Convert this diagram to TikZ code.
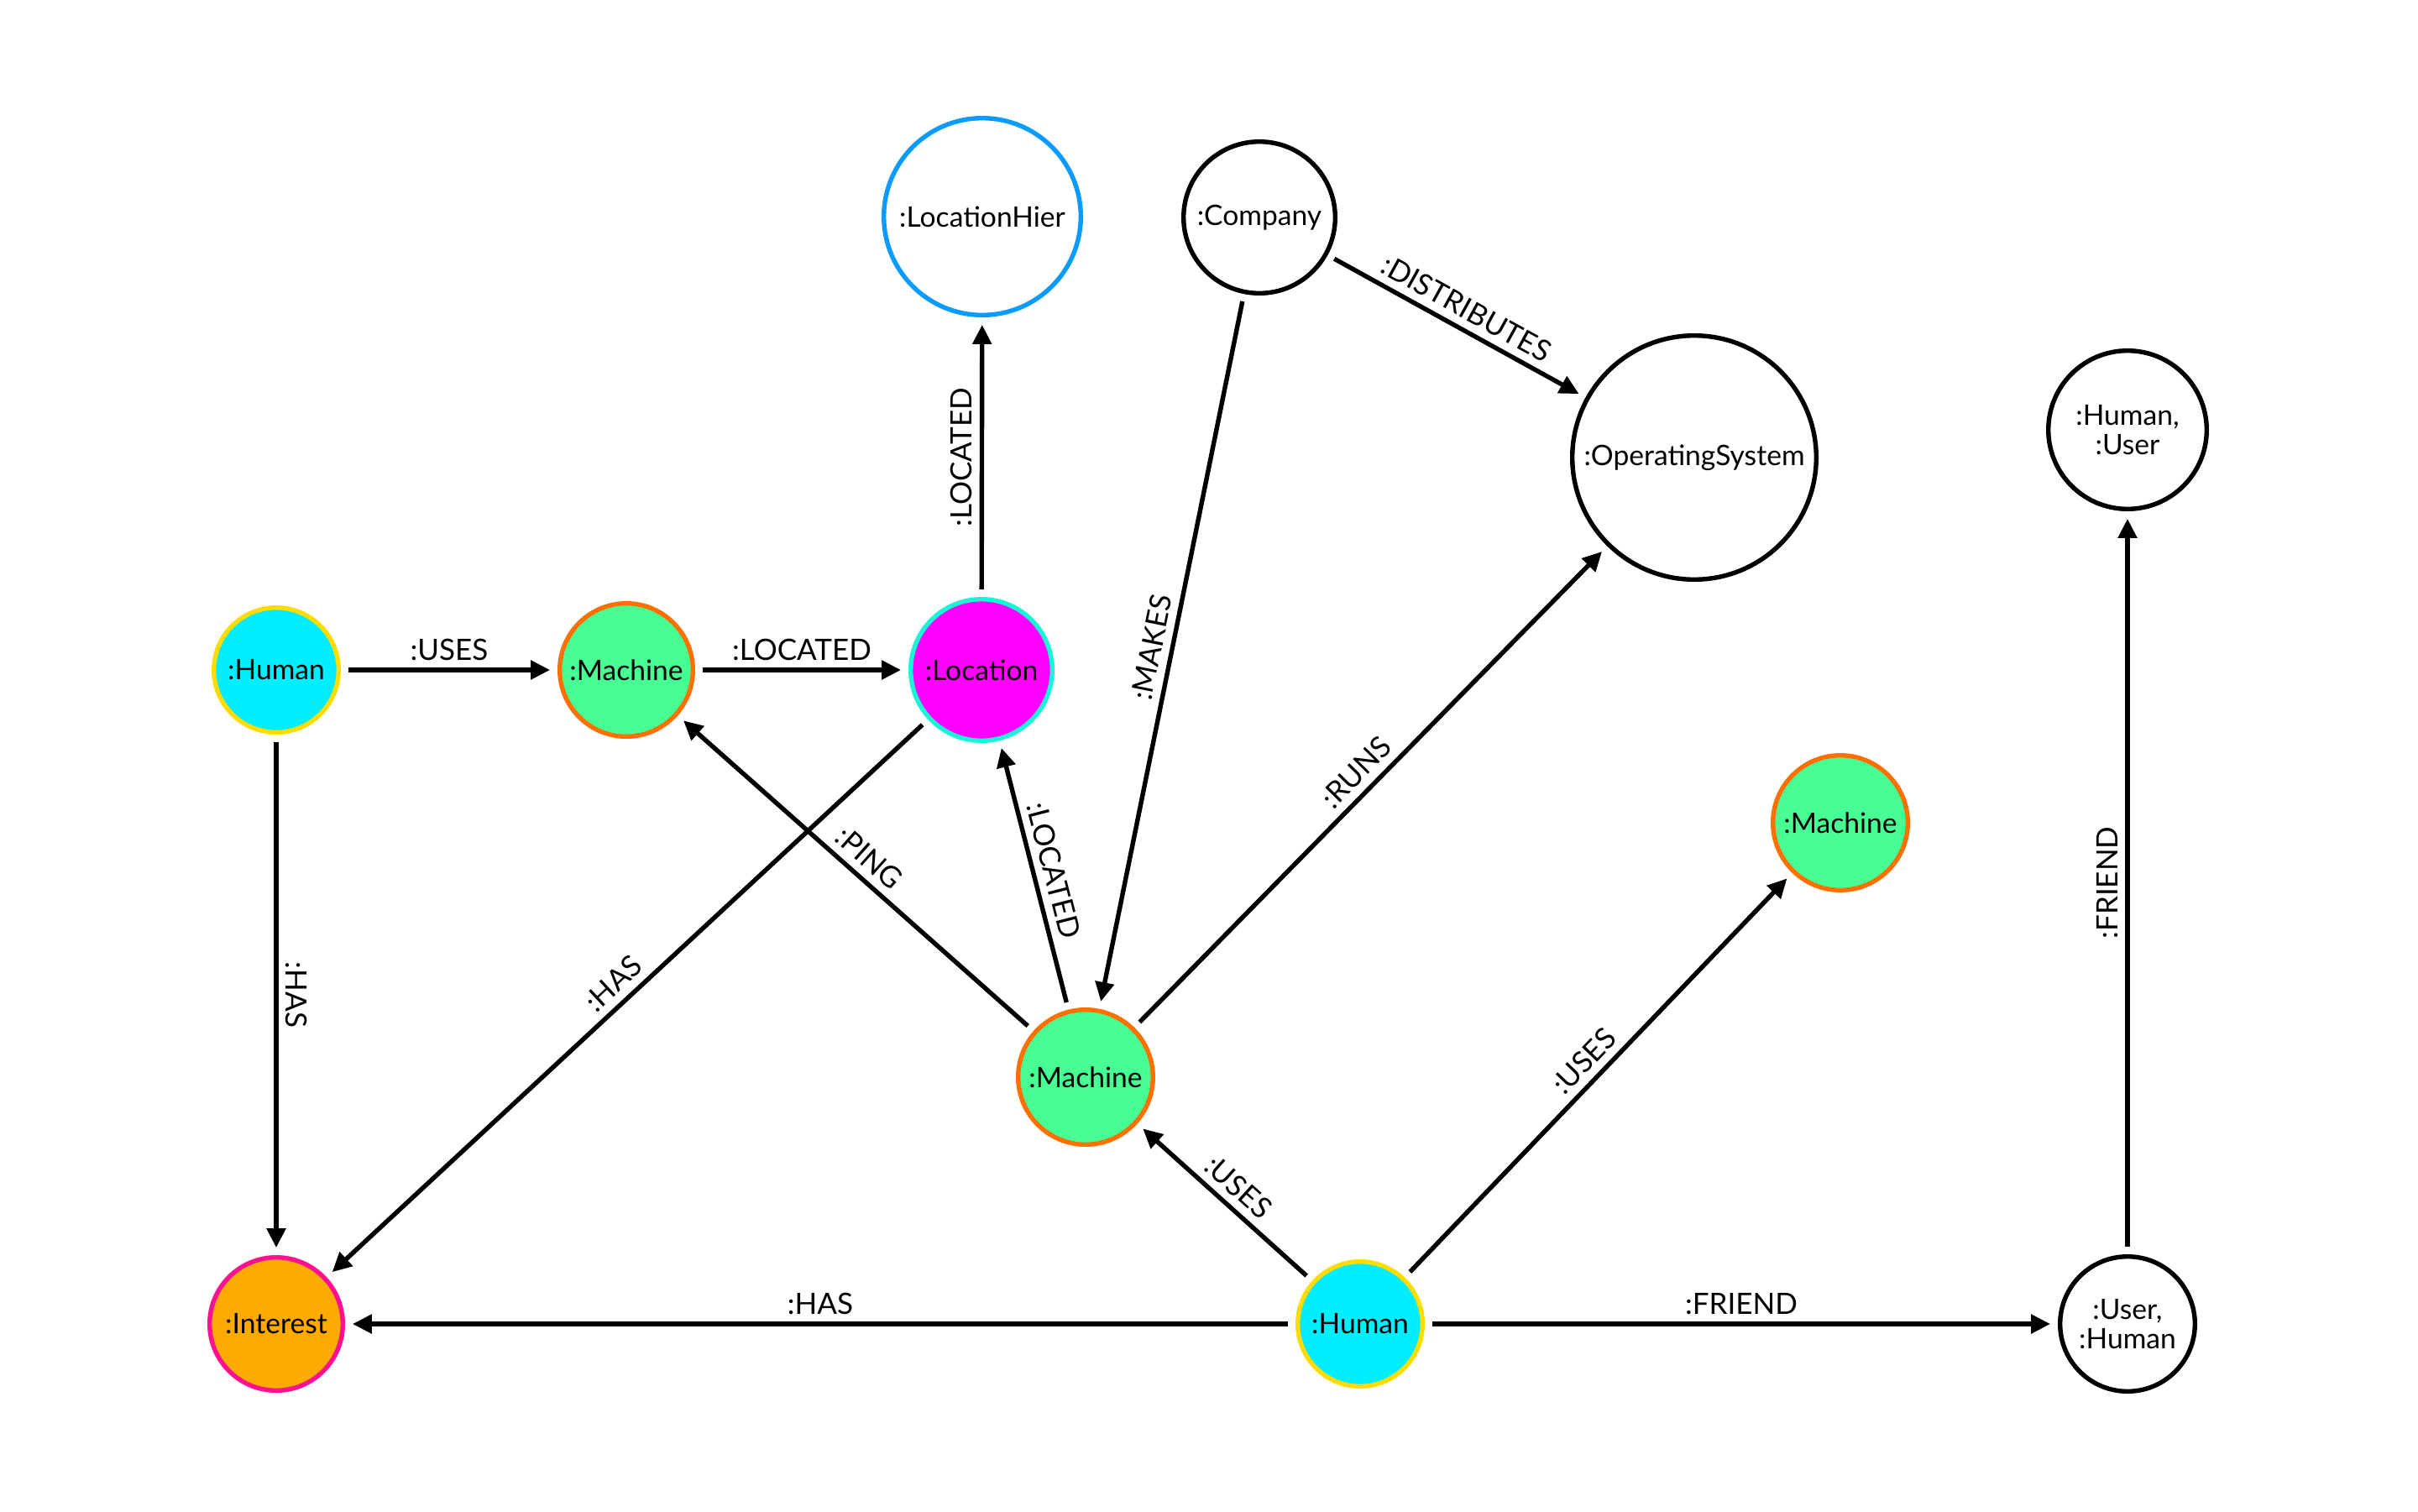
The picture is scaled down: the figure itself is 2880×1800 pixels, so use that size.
\documentclass[tikz,border=0pt]{standalone}
\usepackage{fontspec}
\setmainfont{Lato}
\usetikzlibrary{arrows.meta}
\definecolor{humanfill}{RGB}{0,238,255}
\definecolor{humanline}{RGB}{255,221,0}
\definecolor{machfill}{RGB}{72,255,148}
\definecolor{machline}{RGB}{255,112,0}
\definecolor{locfill}{RGB}{255,0,255}
\definecolor{locline}{RGB}{25,245,215}
\definecolor{intfill}{RGB}{255,170,0}
\definecolor{intline}{RGB}{255,16,144}
\definecolor{hierline}{RGB}{10,155,255}
\begin{document}
\begin{tikzpicture}[x=0.5pt,y=-0.5pt,
  gnode/.style={circle, draw=black, fill=white, line width=2.7pt, inner sep=0pt,
    align=center, font=\fontsize{16.8}{17.5}\selectfont, outer sep=5.8pt},
  humannode/.style={gnode, draw=humanline, fill=humanfill},
  machnode/.style={gnode, draw=machline, fill=machfill},
  locnode/.style={gnode, draw=locline, fill=locfill},
  intnode/.style={gnode, draw=intline, fill=intfill},
  hiernode/.style={gnode, draw=hierline},
  rel/.style={line width=2.7pt, -{Triangle[length=11.5pt,width=11pt]}},
  lbl/.style={midway, sloped, above, font=\fontsize{17.5}{20}\selectfont, inner sep=2pt, yshift=2.5pt}]
\fill[white] (0,0) rectangle (2880,1800);
\useasboundingbox (0,0) rectangle (2880,1800);

\node[hiernode, minimum size=117.3pt] (hier) at (1170,258) {:LocationHier};
\node[gnode, minimum size=90.3pt] (company) at (1500,259) {:Company};
\node[gnode, minimum size=145.3pt] (os) at (2018,545) {:OperatingSystem};
\node[gnode, minimum size=94.3pt] (humanuser) at (2534,512) {:Human,\\:User};
\node[humannode, minimum size=74.3pt] (humanL) at (329,798) {:Human};
\node[machnode, minimum size=79.3pt] (machT) at (746,798) {:Machine};
\node[locnode, minimum size=84.3pt] (loc) at (1169,798) {:Location};
\node[machnode, minimum size=80.3pt] (machR) at (2192,980) {:Machine};
\node[machnode, minimum size=80.3pt] (machC) at (1293,1283) {:Machine};
\node[intnode, minimum size=79.3pt] (interest) at (329,1577) {:Interest};
\node[humannode, minimum size=74.3pt] (humanB) at (1620,1577) {:Human};
\node[gnode, minimum size=80.3pt] (userhuman) at (2534,1577) {:User,\\:Human};

\draw[rel] (humanL) -- node[lbl] {:USES} (machT);
\draw[rel] (machT) -- node[lbl] {:LOCATED} (loc);
\draw[rel] (loc) -- node[lbl] {:LOCATED} (hier);
\draw[rel] (company) -- node[lbl] {:DISTRIBUTES} (os);
\draw[rel] (company) -- node[lbl] {:MAKES} (machC);
\draw[rel] (humanL) -- node[lbl] {:HAS} (interest);
\draw[rel] (loc) -- node[lbl] {:HAS} (interest);
\draw[rel] (machC) -- node[lbl] {:PING} (machT);
\draw[rel] (machC) -- node[lbl] {:LOCATED} (loc);
\draw[rel] (machC) -- node[lbl] {:RUNS} (os);
\draw[rel] (humanB) -- node[lbl] {:USES} (machC);
\draw[rel] (humanB) -- node[lbl] {:USES} (machR);
\draw[rel] (humanB) -- node[lbl] {:HAS} (interest);
\draw[rel] (humanB) -- node[lbl] {:FRIEND} (userhuman);
\draw[rel] (userhuman) -- node[lbl] {:FRIEND} (humanuser);
\end{tikzpicture}
\end{document}
